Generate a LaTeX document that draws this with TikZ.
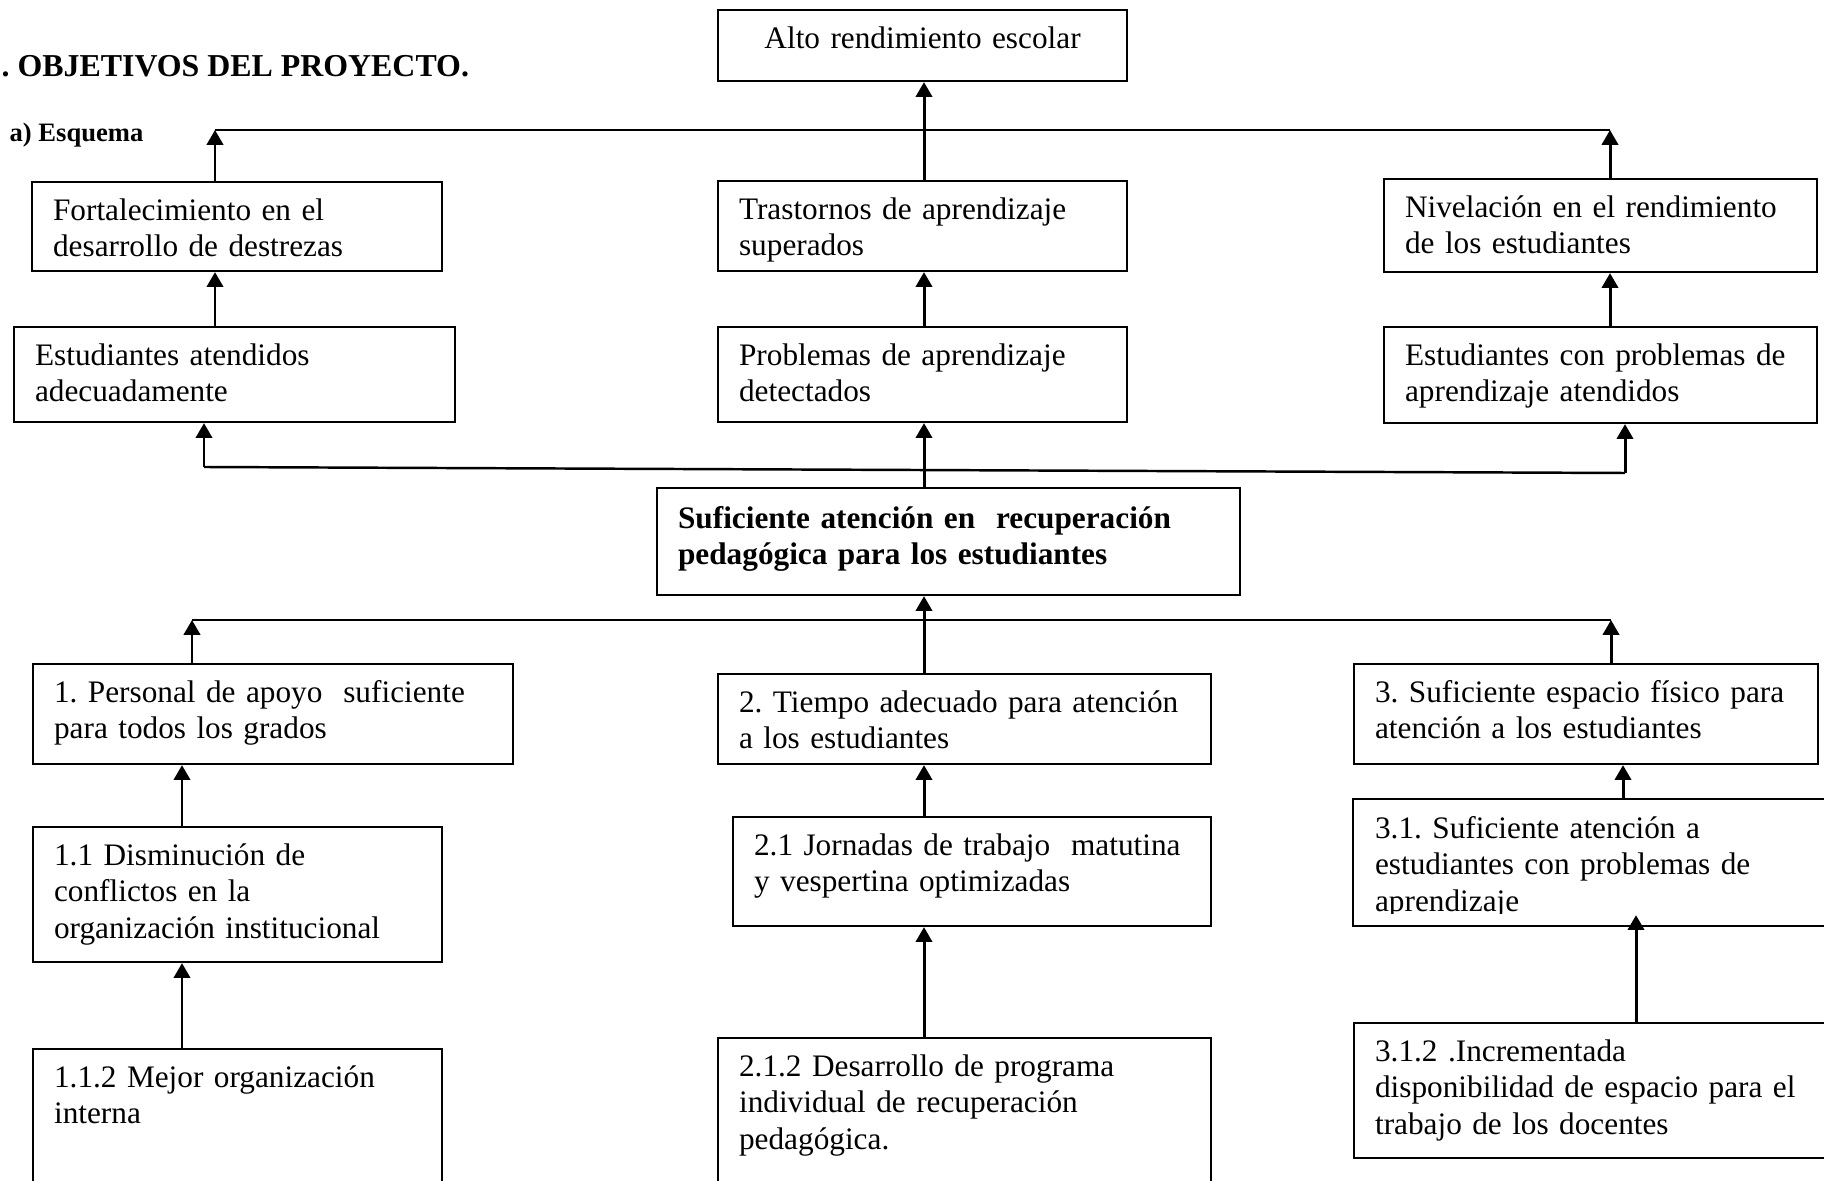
\documentclass[tikz,border=0pt]{standalone}
\usepackage{fontspec}
\setmainfont{Liberation Serif}
\usetikzlibrary{arrows.meta}
\usetikzlibrary{calc}
\frenchspacing
\hyphenpenalty=10000
\exhyphenpenalty=10000

\begin{document}
\begin{tikzpicture}[
  font=\fontsize{8.9}{10.49}\selectfont,
  caja/.style={draw, line width=0.6pt, anchor=north west, align=left, inner xsep=0.21cm, inner ysep=0pt, text height=0.38cm},
  flecha/.style={line width=0.85pt, -{Triangle[width=4.6pt,length=4.2pt]}},
  linea/.style={line width=0.7pt}
]
\useasboundingbox (0,0) rectangle (18.24,11.80);
\clip (0,0) rectangle (18.24,11.80);

% titulos
\node[anchor=base west, inner sep=0pt, font=\fontsize{9.07}{10.49}\selectfont\bfseries] (titulo) at (0.01,11.03) {. OBJETIVOS DEL PROYECTO.};
\node[anchor=base west, inner sep=0pt, font=\fontsize{7.56}{9}\selectfont\bfseries] (esquema) at (0.09,10.38) {a) Esquema};

% fines
\node[caja, align=center, text width=3.67cm, text depth=0.33cm] (alto) at (7.17,11.71) {Alto rendimiento escolar};
\node[caja, text width=3.68cm, text depth=0.51cm] (fort) at (0.31,9.99) {Fortalecimiento en el\\desarrollo de destrezas};
\node[caja, text width=3.67cm, text depth=0.52cm] (trast) at (7.17,10.00) {Trastornos de aprendizaje\\superados};
\node[caja, text width=3.91cm, text depth=0.55cm] (nivel) at (13.83,10.02) {Nivelación en el rendimiento\\de los estudiantes};
\node[caja, text width=3.99cm, text depth=0.57cm] (estat) at (0.13,8.54) {Estudiantes atendidos\\adecuadamente};
\node[caja, text width=3.67cm, text depth=0.57cm] (probl) at (7.17,8.54) {Problemas de aprendizaje\\detectados};
\node[caja, text width=3.91cm, text depth=0.58cm] (estcon) at (13.83,8.54) {Estudiantes con problemas de\\aprendizaje atendidos};

% proposito
\node[caja, text width=5.41cm, text height=0.40cm, text depth=0.67cm, font=\fontsize{8.9}{10.49}\selectfont\bfseries] (central) at (6.56,6.93) {Suficiente atención en\ \ recuperación\\pedagógica para los estudiantes};

% componentes
\node[caja, text width=4.38cm, text depth=0.62cm] (p1) at (0.32,5.17) {1. Personal de apoyo\ \ suficiente\\para todos los grados};
\node[caja, text width=4.51cm, text depth=0.52cm] (p2) at (7.17,5.07) {2. Tiempo adecuado para atención\\a los estudiantes};
\node[caja, text width=4.22cm, text depth=0.62cm] (p3) at (13.53,5.17) {3. Suficiente espacio físico para\\atención a los estudiantes};
\node[caja, text width=3.67cm, text depth=0.97cm] (p11) at (0.32,3.54) {1.1 Disminución de\\conflictos en la\\organización institucional};
\node[caja, text width=4.36cm, text depth=0.71cm] (p21) at (7.32,3.64) {2.1 Jornadas de trabajo\ \ matutina\\y vespertina optimizadas};
\begin{scope}
  \clip (13.40,2.67) rectangle (18.60,3.90);
  \node[caja, draw=none, text width=4.58cm, text depth=0.87cm] (p31) at (13.53,3.81) {3.1. Suficiente atención a\\estudiantes con problemas de\\aprendizaje};
\end{scope}
\draw[line width=0.6pt] (p31.north west) rectangle (p31.south east);
\node[caja, text width=3.67cm, text depth=1.22cm] (p112) at (0.32,1.32) {1.1.2 Mejor organización\\interna};
\node[caja, text width=4.51cm, text depth=1.22cm] (p212) at (7.17,1.43) {2.1.2 Desarrollo de programa\\individual de recuperación\\pedagógica.};
\node[caja, text width=4.58cm, text depth=0.97cm] (p312) at (13.53,1.58) {3.1.2 .Incrementada\\disponibilidad de espacio para el\\trabajo de los docentes};

% ejes de las flechas
\coordinate (ejc) at (9.24,0);
\coordinate (ej1) at (1.82,0);
\coordinate (ej3) at (16.23,0);
\coordinate (ej4) at (16.36,0);
\coordinate (b1l) at (2.15,10.50);
\coordinate (b1r) at (16.10,10.50);
\coordinate (b2l) at (2.04,7.13);
\coordinate (b2r) at (16.25,7.07);
\coordinate (b3l) at (1.92,5.60);
\coordinate (b3r) at (16.11,5.60);

% arriba
\draw[linea] (b1l) -- (b1r);
\draw[flecha] (fort.north -| b1l) -- (b1l);
\draw[flecha] (nivel.north -| b1r) -- (b1r);
\draw[flecha] (trast.north -| ejc) -- (alto.south -| ejc);
\draw[flecha] (estat.north -| b1l) -- (fort.south -| b1l);
\draw[flecha] (probl.north -| ejc) -- (trast.south -| ejc);
\draw[flecha] (estcon.north -| b1r) -- (nivel.south -| b1r);

% proposito hacia los fines
\draw[linea] (b2l) -- (b2r);
\draw[flecha] (b2l) -- (estat.south -| b2l);
\draw[flecha] (b2r) -- (estcon.south -| b2r);
\draw[flecha] (central.north -| ejc) -- (probl.south -| ejc);

% componentes hacia el proposito
\draw[linea] (b3l) -- (b3r);
\draw[flecha] (p1.north -| b3l) -- (b3l);
\draw[flecha] (p3.north -| b3r) -- (b3r);
\draw[flecha] (p2.north -| ejc) -- (central.south -| ejc);

% actividades
\draw[flecha] (p11.north -| ej1) -- (p1.south -| ej1);
\draw[flecha] (p112.north -| ej1) -- (p11.south -| ej1);
\draw[flecha] (p21.north -| ejc) -- (p2.south -| ejc);
\draw[flecha] (p212.north -| ejc) -- (p21.south -| ejc);
\draw[flecha] (p31.north -| ej3) -- (p3.south -| ej3);
\draw[flecha] (p312.north -| ej4) -- ($(p31.south -| ej4)+(0,0.11)$);
\end{tikzpicture}
\end{document}
